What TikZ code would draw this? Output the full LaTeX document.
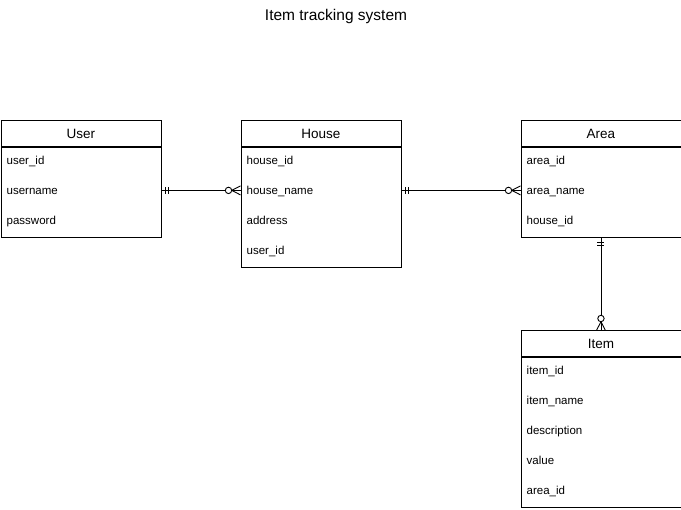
\documentclass[tikz,border=0pt]{standalone}
\usepackage{fontspec}
\setmainfont{Liberation Sans}
\usetikzlibrary{calc,decorations.markings}

\tikzset{
  head/.style={draw, line width=0.9pt, minimum width=160pt, minimum height=26pt,
    inner sep=0pt, anchor=north west, font=\fontsize{13.5}{16}\selectfont},
  body/.style={draw, line width=0.9pt, minimum width=160pt, inner sep=0pt, anchor=north},
  field/.style={anchor=west, inner sep=0pt, text height=9pt, text depth=1pt,
    font=\fontsize{11.5}{14}\selectfont},
  link/.style={line width=0.9pt},
  mandone/.style={postaction={decorate, decoration={markings,
    mark=at position 4pt with {\draw[line width=0.9pt] (0,-3.5pt) -- (0,3.5pt);},
    mark=at position 7pt with {\draw[line width=0.9pt] (0,-3.5pt) -- (0,3.5pt);}}}},
  zeromany/.style={postaction={decorate, decoration={markings,
    mark=at position -12pt with {\draw[line width=0.9pt, fill=white] (0,0) circle (3.2pt);},
    mark=at position -8.8pt with {\draw[line width=0.9pt] (0,0) -- (8.8pt,4.5pt) (0,0) -- (8.8pt,-4.5pt);}}}},
}

\begin{document}
\begin{tikzpicture}[x=1pt, y=-1pt]
    \useasboundingbox (0,0) rectangle (681,510);

    \node[anchor=base, font=\fontsize{15.5}{18}\selectfont] (title) at (336,20.5) {Item tracking system};

    % entities
    \node[head] (user) at (0.5,120.5) {User};
    \node[body, minimum height=90pt] (userbody) at (user.south) {};
    \foreach \f [count=\i] in {user\_id, username, password}
      \node[field] (user-\i) at ($(userbody.north west)+(6,{13+30*(\i-1)})$) {\f};

    \node[head] (house) at (240.5,120.5) {House};
    \node[body, minimum height=120pt] (housebody) at (house.south) {};
    \foreach \f [count=\i] in {house\_id, house\_name, address, user\_id}
      \node[field] (house-\i) at ($(housebody.north west)+(6,{13+30*(\i-1)})$) {\f};

    \node[head] (area) at (520.5,120.5) {Area};
    \node[body, minimum height=90pt] (areabody) at (area.south) {};
    \foreach \f [count=\i] in {area\_id, area\_name, house\_id}
      \node[field] (area-\i) at ($(areabody.north west)+(6,{13+30*(\i-1)})$) {\f};

    \node[head] (item) at (520.5,330.5) {Item};
    \node[body, minimum height=150pt] (itembody) at (item.south) {};
    \foreach \f [count=\i] in {item\_id, item\_name, description, value, area\_id}
      \node[field] (item-\i) at ($(itembody.north west)+(6,{13+30*(\i-1)})$) {\f};

    % relations
    \draw[link, mandone, zeromany] (userbody.east |- user-2) -- (housebody.west |- house-2);
    \draw[link, mandone, zeromany] (housebody.east |- house-2) -- (areabody.west |- area-2);
    \draw[link, mandone, zeromany] (areabody.south) -- (item.north);
\end{tikzpicture}
\end{document}
